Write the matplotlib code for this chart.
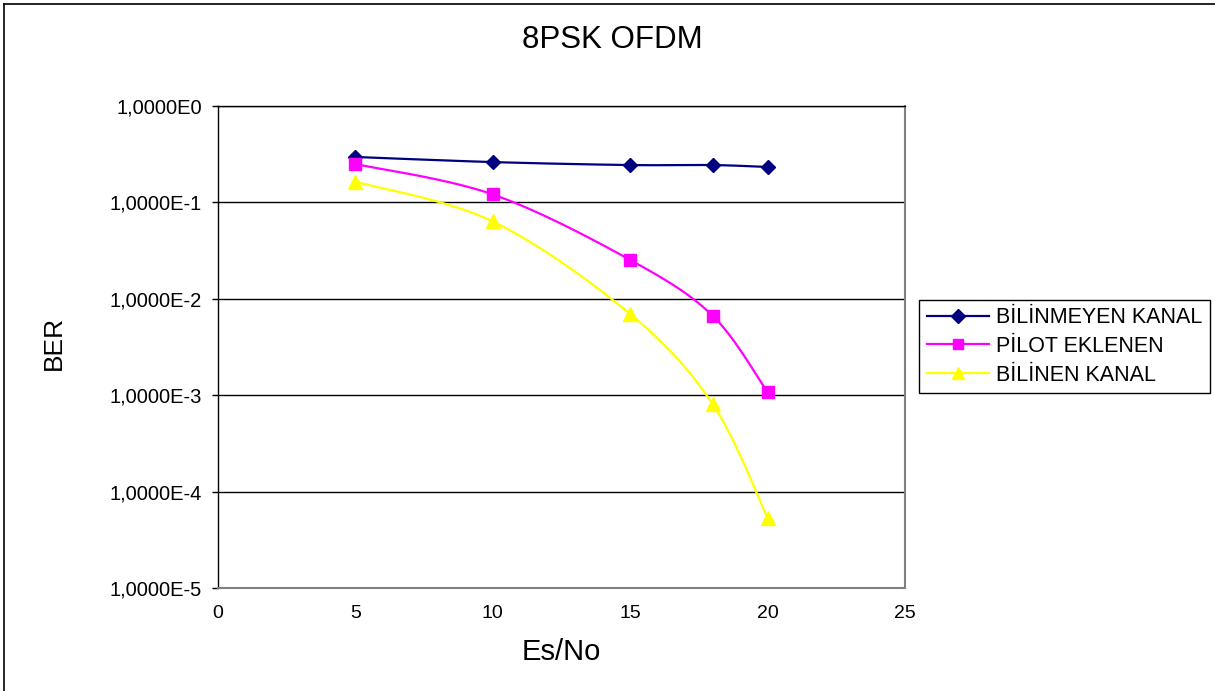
import numpy as np
import matplotlib
matplotlib.use("Agg")
import matplotlib.pyplot as plt
from matplotlib.lines import Line2D

plt.rcParams['font.family'] = ['Liberation Sans', 'DejaVu Sans']

# Es/No values (dB) and measured bit error rates
es_no = [5, 10, 15, 18, 20]
ber_unknown = [0.296, 0.262, 0.244, 0.244, 0.233]
ber_pilot = [0.25, 0.121, 0.0253, 0.00668, 0.00107]
ber_known = [0.164, 0.0634, 0.00695, 0.00081, 5.3e-5]

series_names = ["BİLİNMEYEN KANAL", "PİLOT EKLENEN", "BİLİNEN KANAL"]
y_tick_values = [1e0, 1e-1, 1e-2, 1e-3, 1e-4, 1e-5]
y_tick_labels = ["1,0000E0", "1,0000E-1", "1,0000E-2", "1,0000E-3", "1,0000E-4", "1,0000E-5"]
x_tick_values = [0, 5, 10, 15, 20, 25]

W, H = 1215, 691
fig = plt.figure(figsize=(W / 100, H / 100), dpi=100)
ax_l, ax_r, ax_t, ax_b = 218, 905, 106, 588
ax = fig.add_axes([ax_l / W, 1 - ax_b / H, (ax_r - ax_l) / W, (ax_b - ax_t) / H])
ax.set_xlim(0, 25)
ax.set_yscale('log')
ax.set_ylim(1e-5, 1e0)

px_x = (ax_r - ax_l) / 25.0
px_y = (ax_b - ax_t) / 5.0


def smooth(xs, ys, n=40):
    """Bezier smoothing in screen-like units (control points from neighbours)."""
    P = np.column_stack([np.asarray(xs, float) * px_x, np.log10(ys) * px_y])
    out = [P[0]]
    for i in range(len(P) - 1):
        p0 = P[i - 1] if i > 0 else P[i]
        p1, p2 = P[i], P[i + 1]
        p3 = P[i + 2] if i + 2 < len(P) else P[i + 1]
        c1 = p1 + (p2 - p0) / 6.0
        c2 = p2 - (p3 - p1) / 6.0
        t = np.linspace(0, 1, n)[1:, None]
        seg = ((1 - t) ** 3) * p1 + 3 * ((1 - t) ** 2) * t * c1 + 3 * (1 - t) * t ** 2 * c2 + t ** 3 * p2
        out.extend(seg)
    out = np.array(out)
    return out[:, 0] / px_x, 10 ** (out[:, 1] / px_y)


styles = [
    dict(color='#000080', marker='D', ms=7.5),
    dict(color='#FF00FF', marker='s', ms=8.5),
    dict(color='#FFFF00', marker='^', ms=9.5),
]
handles = []
for ys, st, name in zip([ber_unknown, ber_pilot, ber_known], styles, series_names):
    sx, sy = smooth(es_no, ys)
    ax.plot(sx, sy, color=st['color'], lw=1.6, zorder=3)
    ax.plot(es_no, ys, ls='none', marker=st['marker'], ms=st['ms'],
            mfc=st['color'], mec=st['color'], zorder=4)
    handles.append(Line2D([], [], color=st['color'], lw=1.6, marker=st['marker'],
                          ms=st['ms'] * 0.9, mfc=st['color'], mec=st['color']))

# horizontal gridlines at every decade
for yv in y_tick_values:
    ax.axhline(yv, color='black', lw=1.0, zorder=1)

ax.set_yticks(y_tick_values)
ax.set_yticklabels(y_tick_labels)
ax.yaxis.set_minor_locator(matplotlib.ticker.NullLocator())
ax.set_xticks(x_tick_values)
ax.set_xticklabels([str(v) for v in x_tick_values])
ax.tick_params(axis='y', direction='out', length=4.5, width=1, pad=7, labelsize=14.5, color='black')
ax.tick_params(axis='x', length=0, pad=12, labelsize=14)

for side in ['right', 'bottom']:
    ax.spines[side].set_color('#808080')
    ax.spines[side].set_linewidth(1.5)
ax.spines['top'].set_color('black')
ax.spines['top'].set_linewidth(1.0)
ax.spines['left'].set_color('black')
ax.spines['left'].set_linewidth(1.0)

ax.set_xlabel("Es/No", fontsize=21, va='center')
ax.xaxis.set_label_coords((561 - ax_l) / (ax_r - ax_l), (ax_b - 652) / (ax_b - ax_t))
ax.set_ylabel("BER", fontsize=19, va='center')
ax.yaxis.set_label_coords((54 - ax_l) / (ax_r - ax_l), (ax_b - 343) / (ax_b - ax_t))

fig.text(612 / W, 1 - 40 / H, "8PSK OFDM", fontsize=22.5, ha='center', va='center')

leg = fig.legend(handles, series_names, loc='center left',
                 bbox_to_anchor=(919 / W, 1 - 346.5 / H), fontsize=15.5,
                 frameon=True, fancybox=False, framealpha=1, edgecolor='black',
                 handlelength=2.9, handletextpad=0.35, borderpad=0.35,
                 labelspacing=0.35, borderaxespad=0)
leg.get_frame().set_linewidth(1.0)

# chart area border (left and top edges)
fig.add_artist(Line2D([4 / W, 4 / W], [0, 1 - 4 / H], transform=fig.transFigure, color='black', lw=1.2))
fig.add_artist(Line2D([4 / W, 1], [1 - 4 / H, 1 - 4 / H], transform=fig.transFigure, color='black', lw=1.2))

fig.savefig("out.png", dpi=100)
